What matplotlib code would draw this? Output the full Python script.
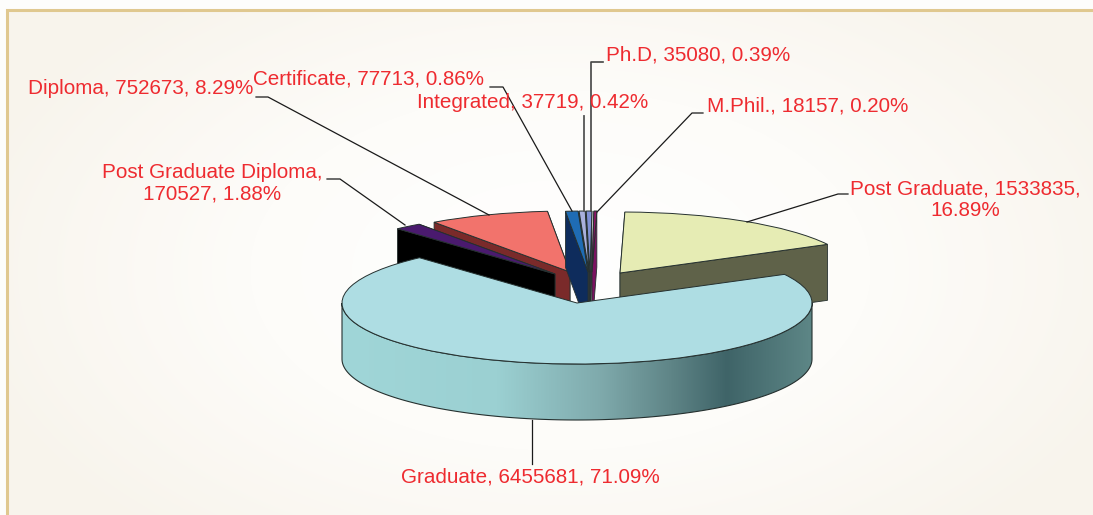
import numpy as np
import matplotlib
matplotlib.use("Agg")
import matplotlib.pyplot as plt
from matplotlib.colors import LinearSegmentedColormap
from matplotlib.patches import Polygon
from matplotlib.transforms import Affine2D

plt.rcParams['font.family'] = ['Liberation Sans', 'DejaVu Sans']

# data, in pie order (counter clockwise from the left corner of Graduate)
names = ["Graduate", "Post Graduate", "M.Phil.", "Ph.D", "Integrated",
         "Certificate", "Diploma", "Post Graduate Diploma"]
counts = [6455681, 1533835, 18157, 35080, 37719, 77713, 752673, 170527]
percents = [71.09, 16.89, 0.20, 0.39, 0.42, 0.86, 8.29, 1.88]

top_colors = ["#aedde3", "#e6ecb4", "#8f1468", "#7f90d4", "#a9b0dc",
              "#1f6cb4", "#f2736c", "#4a1a6e"]
face_colors = ["#9ed3d6", "#5f6249", "#7a1260", "#3f3f46", "#4a4a55",
               "#0e2c5c", "#7a2a2a", "#000000"]

# layout, pixels
W, H = 1093, 515
RX, RY, DEPTH = 235, 61, 56
tips = [(577, 303), (620, 273), (592, 272), (590, 272), (589, 272),
        (588, 272), (570, 272), (555, 274)]
draw_order = [6, 7, 3, 4, 2, 5, 1, 0]

fig = plt.figure(figsize=(W / 100, H / 100), dpi=100)
ax = fig.add_axes([0, 0, 1, 1])

# background
yy, xx = np.mgrid[0:H, 0:W]
dist = np.clip(np.hypot((xx - 560) / 620, (yy - 270) / 360), 0, 1)
bg = LinearSegmentedColormap.from_list("bg", ["#ffffff", "#fdfcf9", "#f8f4ec"])
ax.imshow(dist, cmap=bg, vmin=0, vmax=1, extent=(0, W, H, 0), aspect='auto', zorder=0)
ax.add_patch(plt.Rectangle((0, 0), W, 9, fc="#fdfdfb", ec="none", zorder=0.5))
ax.add_patch(plt.Rectangle((0, 0), 6, H, fc="#fdfdfb", ec="none", zorder=0.5))
ax.plot([7, 7, 1091], [H, 10, 10], color="#e0c88f", lw=2.2, zorder=1,
        solid_joinstyle='miter')

wedges, _ = ax.pie(counts, startangle=132.1, radius=RX, colors=top_colors,
                   wedgeprops=dict(edgecolor="#25302f", linewidth=0.7))
ax.set_aspect('auto')
ax.set_xlim(0, W)
ax.set_ylim(H, 0)
ax.set_frame_on(False)
ax.set_xticks([])
ax.set_yticks([])


def rim(tip, deg, drop=0):
    t = np.radians(deg)
    return tip[0] + RX * np.cos(t), tip[1] - RY * np.sin(t) + drop


z = 2
for i in draw_order:
    tip = tips[i]
    w = wedges[i]
    mid = ((w.theta1 + w.theta2) / 2) % 360
    # the cut face turned away from the viewer goes first
    sides = [w.theta2, w.theta1] if mid < 90 else [w.theta1, w.theta2]
    if i != 0:
        for deg in sides:
            quad = [tip, rim(tip, deg), rim(tip, deg, DEPTH), (tip[0], tip[1] + DEPTH)]
            ax.add_patch(Polygon(quad, fc=face_colors[i], ec="#25302f", lw=0.6, zorder=z))
            z += 1
    else:
        # round front of the big slice, shaded from left to right
        angles = np.linspace(180, 360, 200)
        upper = [rim(tip, a) for a in angles]
        lower = [rim(tip, a, DEPTH) for a in angles[::-1]]
        outline = Polygon(upper + lower, fc="none", ec="#25302f", lw=0.8, zorder=z + 1)
        ax.add_patch(outline)
        shade = LinearSegmentedColormap.from_list(
            "shade", [(0, "#a0d6d8"), (0.33, "#9bd0d2"), (0.55, "#7faaac"),
                      (0.70, "#5f8587"), (0.82, "#3f6468"), (1, "#5d8686")])
        im = ax.imshow(np.linspace(0, 1, 256).reshape(1, -1), cmap=shade,
                       extent=(tip[0] - RX, tip[0] + RX, tip[1] + RY + DEPTH, tip[1]),
                       aspect='auto', zorder=z)
        im.set_clip_path(outline)
        z += 2
    w.set_transform(Affine2D().scale(1, -RY / RX).translate(*tip) + ax.transData)
    w.set_zorder(z)
    z += 1
ax.set_xlim(0, W)
ax.set_ylim(H, 0)

# leader lines
leaders = [
    ([532, 532], [420, 464], "#1a1a1a", 0.9),
    ([747, 838, 848], [222, 194, 194], "#1a1a1a", 0.9),
    ([597, 692, 703], [212, 113, 113], "#1a1a1a", 0.9),
    ([591, 591, 603], [211, 62, 62], "#444444", 1.2),
    ([584, 584], [211, 116], "#555555", 1.3),
    ([572, 503, 490], [211, 87, 87], "#1a1a1a", 0.9),
    ([489, 268, 256], [215, 97, 97], "#1a1a1a", 0.9),
    ([405, 340, 327], [225, 179, 179], "#1a1a1a", 0.9),
]
for lx, ly, c, lw in leaders:
    ax.plot(lx, ly, color=c, lw=lw, zorder=z)
z += 1

# labels
seps = [(", ", ", "), (", ", ",\n"), (", ", ", "), (", ", ", "), (", ", ", "),
        (", ", ", "), (", ", ", "), (",\n", ", ")]
label_pos = [(530, 477, 'center'), (965, 200, 'center'), (707, 106, 'left'),
             (606, 55, 'left'), (417, 103, 'left'), (253, 79, 'left'),
             (28, 89, 'left'), (212, 183, 'center')]
for name, n, p, s, (tx, ty, ha) in zip(names, counts, percents, seps, label_pos):
    ax.text(tx, ty, f"{name}{s[0]}{n}{s[1]}{p:.2f}%", color="#ee2b30", fontsize=14.83,
            ha=ha, va='center', multialignment='center', linespacing=1.17, zorder=z)

fig.savefig("out.png", dpi=100)
